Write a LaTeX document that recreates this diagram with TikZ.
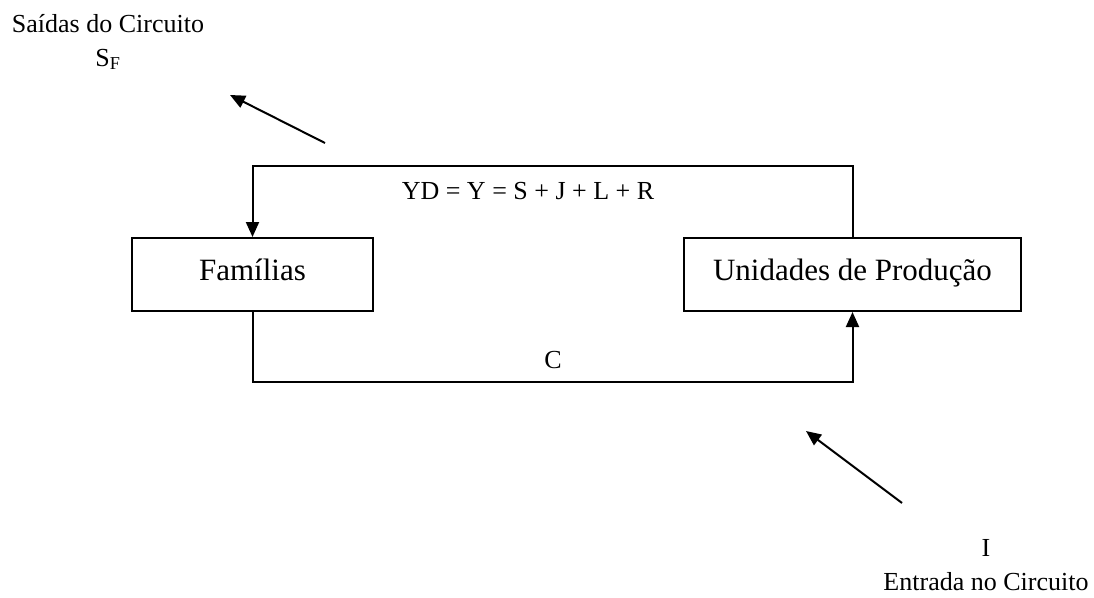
\documentclass[tikz,border=0pt]{standalone}
\usepackage{fontspec}
\setmainfont{Liberation Serif}
\usetikzlibrary{arrows.meta}
\begin{document}
\begin{tikzpicture}[x=1pt,y=-1pt,
  line width=2pt,
  tip/.style={-{Triangle[length=15pt,width=13pt]}},
  blockbox/.style={draw,minimum height=73pt,inner sep=0pt,text height=21pt,text depth=10pt,
    font=\fontsize{31}{36}\selectfont},
  lbl/.style={inner sep=0pt,font=\fontsize{26}{34}\selectfont,align=center}]
\useasboundingbox (0,0) rectangle (1094,597);

% the two sectors
\node[blockbox,minimum width=241pt] (fam) at (252.5,274.5) {Famílias};
\node[blockbox,minimum width=337pt] (prod) at (852.5,274.5) {Unidades de Produção};

% loop corners
\coordinate (tl) at (252.5,166);
\coordinate (tr) at (852.5,166);
\coordinate (bl) at (252.5,382);
\coordinate (br) at (852.5,382);

% income flow and consumption flow
\draw[tip] (prod.north) -- (tr) -- (tl) -- (fam.north);
\draw[tip] (fam.south) -- (bl) -- (br) -- (prod.south);

\node[lbl] (inc) at (528,191) {YD = Y = S + J + L + R};
\node[lbl] (cons) at (553,360) {C};

% leakages
\node[lbl,anchor=north] (out) at (108,13) {Saídas do Circuito\\S\textsubscript{F}};
\coordinate (outtail) at (325,143);
\coordinate (outtip) at (230,95);
\draw[tip] (outtail) -- (outtip);

% injections
\node[lbl,anchor=south] (in) at (986,592) {I\\Entrada no Circuito};
\coordinate (intail) at (902,503);
\coordinate (intip) at (806,431);
\draw[tip] (intail) -- (intip);
\end{tikzpicture}
\end{document}
